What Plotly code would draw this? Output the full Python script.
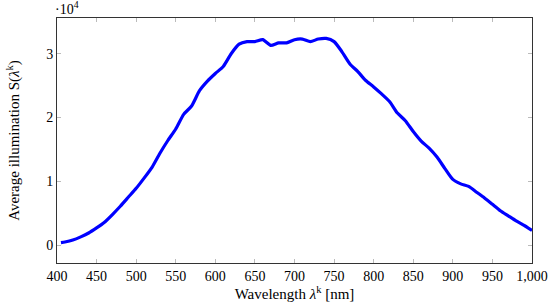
import plotly.graph_objects as go

# wavelength in nm, illumination in units of 10^4
wavelength = [405, 410, 420, 430, 440, 450, 460, 470, 480, 490, 500, 510, 520, 530, 540,
              550, 560, 570, 580, 590, 600, 610, 620, 630, 640, 650, 660, 670, 680, 690,
              700, 710, 720, 730, 740, 750, 760, 770, 780, 790, 800, 810, 820, 830, 840,
              850, 860, 870, 880, 890, 900, 910, 920, 930, 940, 950, 960, 970, 980, 990, 1000]
illum_1e4 = [0.04, 0.05, 0.08, 0.13, 0.19, 0.27, 0.36, 0.48, 0.61, 0.75, 0.89, 1.05, 1.22, 1.44, 1.64,
             1.82, 2.05, 2.18, 2.42, 2.57, 2.69, 2.80, 3.00, 3.15, 3.19, 3.19, 3.22, 3.13, 3.17, 3.17,
             3.22, 3.23, 3.19, 3.23, 3.24, 3.19, 3.03, 2.84, 2.72, 2.58, 2.48, 2.37, 2.25, 2.07, 1.95,
             1.78, 1.63, 1.52, 1.38, 1.20, 1.03, 0.96, 0.92, 0.83, 0.74, 0.64, 0.54, 0.46, 0.38, 0.31, 0.23]

x_ticks = [400, 450, 500, 550, 600, 650, 700, 750, 800, 850, 900, 950, 1000]
y_ticks = [0, 1, 2, 3]

font = dict(family="Liberation Serif", size=14, color="black")
title_font = dict(family="Liberation Serif", size=15, color="black")

fig = go.Figure()
fig.add_trace(go.Scatter(x=wavelength, y=illum_1e4, mode="lines",
                         line=dict(color="#0000ff", width=3.2, shape="spline", smoothing=0.6)))

axis = dict(showline=True, linecolor="#333", linewidth=1, mirror="ticks", ticks="inside",
            ticklen=4, tickcolor="#bbb", showgrid=False, zeroline=False, tickfont=font,
            automargin=False)
fig.update_xaxes(**axis, range=[400, 1000], tickvals=x_ticks, tickformat=",",
                 title=dict(text="Wavelength <i>λ</i><sup>k</sup> [nm]", font=title_font, standoff=4))
fig.update_yaxes(**axis, range=[-0.28, 3.56], tickvals=y_ticks,
                 title=dict(text="Average illumination S(<i>λ</i><sup>k</sup>)", font=title_font, standoff=22))

fig.add_annotation(x=0, y=1, xref="paper", yref="paper", xanchor="left", yanchor="bottom",
                   text="·10<sup>4</sup>", showarrow=False, font=font, xshift=-4, yshift=-1)

fig.update_layout(width=550, height=307, margin=dict(l=57, r=18, t=18, b=44),
                  plot_bgcolor="white", paper_bgcolor="white", showlegend=False, font=font)

# the page body has a default 8px margin; drop it so the figure sits at the window corner
fig.write_html("out.html", config={"displayModeBar": False},
               post_script="document.body.style.margin='0';")
